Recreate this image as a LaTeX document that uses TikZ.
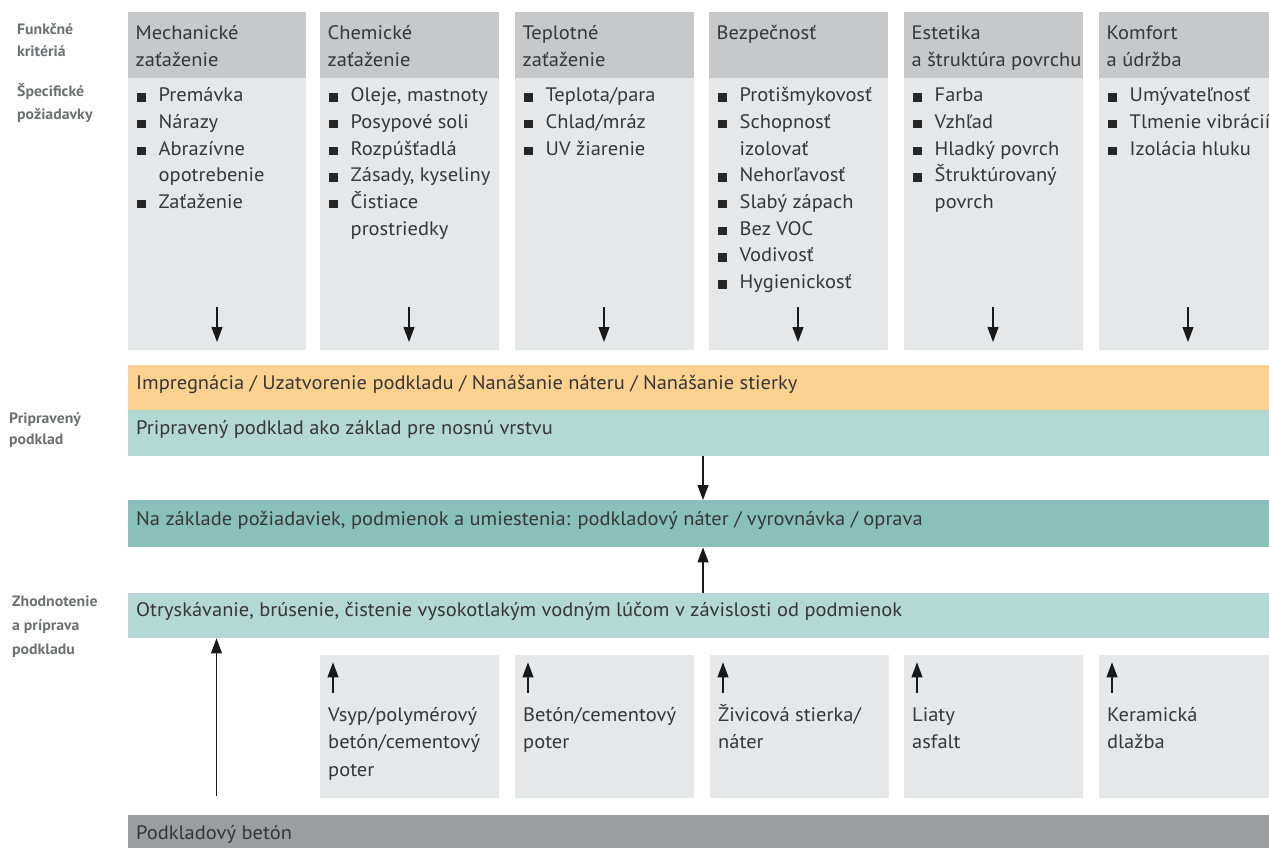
\documentclass[tikz,border=0pt]{standalone}
\usepackage{fontspec}
\setmainfont[FakeStretch=1.05]{PT Sans}
\usetikzlibrary{arrows.meta}
\definecolor{hdrgray}{HTML}{C7C8CA}
\definecolor{bodygray}{HTML}{E6E7E9}
\definecolor{orangeband}{HTML}{FDD190}
\definecolor{lteal}{HTML}{B4D9D4}
\definecolor{dteal}{HTML}{89C1BA}
\definecolor{botgray}{HTML}{9C9DA0}
\definecolor{txt}{HTML}{363636}
\definecolor{lbl}{HTML}{6E6F71}
\newcommand{\bl}{\makebox[21.5pt][l]{\color{black!85}\rule{8.5pt}{8.5pt}}}
\newcommand{\ind}{\hspace*{21.5pt}}
\tikzset{
  x=1pt, y=-1pt,
  boxn/.style={anchor=north west, inner sep=0, draw=none, minimum height=#1},
  hdrtext/.style={anchor=base west, inner sep=0, text=txt, font=\fontsize{19.5}{27.3}\selectfont},
  listtext/.style={anchor=base west, inner sep=0, text=txt, font=\fontsize{19.5}{26.7}\selectfont},
  bandtext/.style={anchor=base west, inner sep=0, text=txt, font=\fontsize{19.5}{26.7}\selectfont},
  lbltext/.style={anchor=base west, inner sep=0, text=lbl, font=\fontsize{15}{#1}\selectfont\bfseries},
  arr/.style={draw=black!90, line width=1.1pt, -{Triangle[length=15pt,width=11pt]}},
}
\newcommand{\critcol}[5]{%
  \node[boxn=66pt, fill=hdrgray, minimum width=#3pt] (#1h) at (#2,12) {};
  \node[boxn=272pt, fill=bodygray, minimum width=#3pt] (#1b) at (#2,78) {};
  \node[hdrtext] (#1ht) at (#2+7.5,39.3) {\parbox[t]{175pt}{#4}};
  \node[listtext] (#1lt) at (#2+9,101.7) {\parbox[t]{175pt}{#5}};
  \coordinate (#1s) at (#2+89,307);
  \draw[arr, shorten >=23pt] (#1s) -- (#1s |- imp.north);
}
\newcommand{\subcol}[4]{%
  \node[boxn=143pt, fill=bodygray, minimum width=#3pt] (#1b) at (#2,655) {};
  \node[hdrtext] (#1t) at (#2+8,721.5) {\parbox[t]{175pt}{#4}};
  \coordinate (#1s) at (#2+13,693);
  \draw[arr, shorten >=24pt] (#1s) -- (#1s |- otry.south);
}
\begin{document}
\begin{tikzpicture}
\useasboundingbox (0,0) rectangle (1269,848);
% bands
\node[boxn=45pt, fill=orangeband, minimum width=1141pt] (imp) at (128,365) {};
\node[boxn=46pt, fill=lteal, minimum width=1141pt] (prep) at (128,410) {};
\node[boxn=47pt, fill=dteal, minimum width=1141pt] (base) at (128,500) {};
\node[boxn=45pt, fill=lteal, minimum width=1141pt] (otry) at (128,593) {};
\node[boxn=33pt, fill=botgray, minimum width=1141pt] (beton) at (128,815) {};
\node[bandtext] (impt) at (136,389.3) {Impregnácia / Uzatvorenie podkladu / Nanášanie náteru / Nanášanie stierky};
\node[bandtext] (prept) at (136,434) {Pripravený podklad ako základ pre nosnú vrstvu};
\node[bandtext] (baset) at (136,525) {Na základe požiadaviek, podmienok a umiestenia: podkladový náter / vyrovnávka / oprava};
\node[bandtext] (otryt) at (136,616.7) {Otryskávanie, brúsenie, čistenie vysokotlakým vodným lúčom v závislosti od podmienok};
\node[bandtext] (betont) at (136,839) {Podkladový betón};
% columns
\critcol{c1}{128}{178}{Mechanické\\zaťaženie}{\bl Premávka\\\bl Nárazy\\\bl Abrazívne\\\ind opotrebenie\\\bl Zaťaženie}
\critcol{c2}{320}{179}{Chemické\\zaťaženie}{\bl Oleje, mastnoty\\\bl Posypové soli\\\bl Rozpúšťadlá\\\bl Zásady, kyseliny\\\bl Čistiace\\\ind prostriedky}
\critcol{c3}{515}{179}{Teplotné\\zaťaženie}{\bl Teplota/para\\\bl Chlad/mráz\\\bl UV žiarenie}
\critcol{c4}{709}{179}{Bezpečnosť}{\bl Protišmykovosť\\\bl Schopnosť\\\ind izolovať\\\bl Nehorľavosť\\\bl Slabý zápach\\\bl Bez VOC\\\bl Vodivosť\\\bl Hygienickosť}
\critcol{c5}{904}{179}{Estetika\\a štruktúra povrchu}{\bl Farba\\\bl Vzhľad\\\bl Hladký povrch\\\bl Štruktúrovaný\\\ind povrch}
\critcol{c6}{1099}{170}{Komfort\\a údržba}{\bl Umývateľnosť\\\bl Tlmenie vibrácií\\\bl Izolácia hluku}
% bottom boxes
\subcol{s1}{320}{179}{Vsyp/polymérový\\betón/cementový\\poter}
\subcol{s2}{515}{179}{Betón/cementový\\poter}
\subcol{s3}{710}{179}{Živicová stierka/\\náter}
\subcol{s4}{904}{179}{Liaty\\asfalt}
\subcol{s5}{1099}{170}{Keramická\\dlažba}
% middle arrows
\coordinate (mid) at (703,0);
\draw[arr] (prep.south -| mid) -- (base.north -| mid);
\draw[arr] (otry.north -| mid) -- (base.south -| mid);
\coordinate (lx) at (216.5,0);
\draw[arr, shorten <=19pt] (beton.north -| lx) -- (otry.south -| lx);
% left labels
\node[lbltext=22.5pt] (l1) at (17,34.5) {\parbox[t]{110pt}{Funkčné\\kritériá}};
\node[lbltext=23pt] (l2) at (17,96.7) {\parbox[t]{110pt}{Špecifické\\požiadavky}};
\node[lbltext=21.5pt] (l3) at (9,423.3) {\parbox[t]{110pt}{Pripravený\\podklad}};
\node[lbltext=24pt] (l4) at (12,606) {\parbox[t]{110pt}{Zhodnotenie\\a príprava\\podkladu}};
\end{tikzpicture}
\end{document}
